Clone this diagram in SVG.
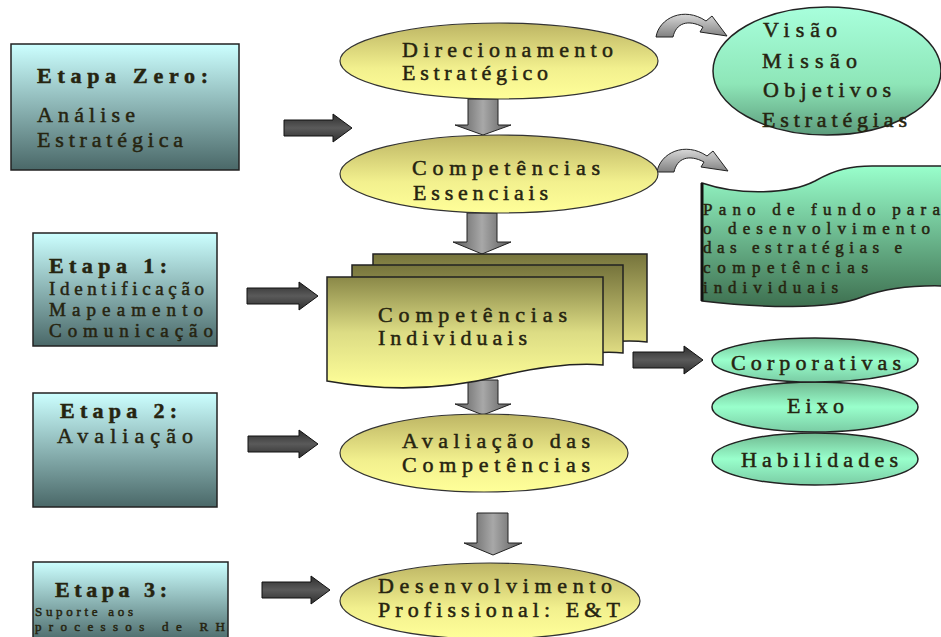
<svg xmlns="http://www.w3.org/2000/svg" width="941" height="637" viewBox="0 0 941 637">
<defs>
<linearGradient id="gBox" x1="0" y1="0" x2="0" y2="1">
<stop offset="0" stop-color="#ccffff"/><stop offset="1" stop-color="#4a6868"/>
</linearGradient>
<linearGradient id="gYel" x1="0" y1="0" x2="0" y2="1">
<stop offset="0" stop-color="#bdb564"/><stop offset="0.6" stop-color="#f2f08e"/><stop offset="1" stop-color="#ffff99"/>
</linearGradient>
<linearGradient id="gDoc" x1="0" y1="0" x2="0" y2="1">
<stop offset="0" stop-color="#8a8848"/><stop offset="0.5" stop-color="#dcdc84"/><stop offset="1" stop-color="#ffff99"/>
</linearGradient>
<linearGradient id="gDocB" x1="0" y1="0" x2="0" y2="1">
<stop offset="0" stop-color="#76743c"/><stop offset="1" stop-color="#f4f090"/>
</linearGradient>
<linearGradient id="gMint" x1="0" y1="0" x2="0" y2="1">
<stop offset="0" stop-color="#a8ffdc"/><stop offset="0.6" stop-color="#8ee6b8"/><stop offset="1" stop-color="#5c9c7c"/>
</linearGradient>
<linearGradient id="gMint2" x1="0" y1="0" x2="0" y2="1">
<stop offset="0" stop-color="#70b890"/><stop offset="0.5" stop-color="#99ffcc"/><stop offset="1" stop-color="#7acca4"/>
</linearGradient>
<linearGradient id="gPano" x1="0" y1="0" x2="0" y2="1">
<stop offset="0" stop-color="#99ffcc"/><stop offset="1" stop-color="#3e7050"/>
</linearGradient>
<linearGradient id="gArR" x1="0" y1="0" x2="0" y2="1">
<stop offset="0" stop-color="#2e2e2e"/><stop offset="0.5" stop-color="#5a5a5a"/><stop offset="1" stop-color="#2e2e2e"/>
</linearGradient>
<linearGradient id="gArD" x1="0" y1="0" x2="1" y2="0">
<stop offset="0" stop-color="#5a5a5a"/><stop offset="0.5" stop-color="#a8a8a8"/><stop offset="1" stop-color="#5a5a5a"/>
</linearGradient>
<linearGradient id="gCurve" x1="0" y1="0" x2="0" y2="1">
<stop offset="0" stop-color="#d8d8d8"/><stop offset="1" stop-color="#808080"/>
</linearGradient>
<path id="curveArrow" d="M656,37 C659,18 684,6 706,21 L712,16 L727,36 L700,32 L703,27 C688,19 676,23 673,37 Z"/>
</defs>
<style>
.box{fill:url(#gBox);stroke:#222;stroke-width:1.5}
.yel{fill:url(#gYel);stroke:#333;stroke-width:1.2}
.mint{fill:url(#gMint);stroke:#222;stroke-width:1.5}
.mint2{fill:url(#gMint2);stroke:#222;stroke-width:1.5}
.ar{fill:url(#gArR);stroke:#111;stroke-width:1}
.ad{fill:url(#gArD);stroke:#222;stroke-width:1}
.cv{fill:url(#gCurve);stroke:#222;stroke-width:1}
text{font-family:"Liberation Serif","Times New Roman",serif;fill:#262410;stroke:#262410;stroke-width:0.5}
.b{font-weight:bold}
.t19{font-size:22px}
.t17{font-size:19px}
.tp{font-size:17px}
.t14{font-size:13px}
</style>

<g id="connectors">
<path class="ar" d="M284,120 L333,120 L333,114 L352,128 L333,142 L333,136 L284,136 Z"/>
<path class="ar" d="M247,288 L299,288 L299,282 L318,296 L299,310 L299,304 L247,304 Z"/>
<path class="ar" d="M248,436 L299,436 L299,430 L318,444 L299,458 L299,452 L248,452 Z"/>
<path class="ar" d="M262,582 L311,582 L311,576 L330,590 L311,604 L311,598 L262,598 Z"/>
<path class="ar" d="M633,352 L684,352 L684,346 L703,360 L684,374 L684,368 L633,368 Z"/>
<path class="ad" d="M468,99 L498,99 L498,125 L511,125 L483,135 L455,125 L468,125 Z"/>
<path class="ad" d="M467,213 L497,213 L497,242 L511,242 L482,254 L453,242 L467,242 Z"/>
<path class="ad" d="M468,380 L498,380 L498,404 L511,404 L483,415 L455,404 L468,404 Z"/>
<path class="ad" d="M477,513 L508,513 L508,543 L522,543 L493,555 L464,543 L477,543 Z"/>
<use href="#curveArrow" class="cv"/>
<use href="#curveArrow" class="cv" transform="translate(1,135)"/>
</g>

<g id="etapa0">
<rect class="box" x="11" y="44" width="228" height="126"/>
<text class="b t19" x="37" y="83" textLength="171" lengthAdjust="spacing">Etapa Zero:</text>
<text class="t19" x="37" y="122" textLength="98" lengthAdjust="spacing">Análise</text>
<text class="t19" x="37" y="147" textLength="146" lengthAdjust="spacing">Estratégica</text>
</g>

<g id="etapa1">
<rect class="box" x="33" y="233" width="184" height="113"/>
<text class="b t19" x="49" y="273" textLength="118" lengthAdjust="spacing">Etapa 1:</text>
<text class="t17" x="49" y="295" textLength="155" lengthAdjust="spacing">Identificação</text>
<text class="t17" x="49" y="316" textLength="154" lengthAdjust="spacing">Mapeamento</text>
<text class="t17" x="49" y="337" textLength="164" lengthAdjust="spacing">Comunicação</text>
</g>

<g id="etapa2">
<rect class="box" x="33" y="393" width="184" height="114"/>
<text class="b t19" x="60" y="418" textLength="117" lengthAdjust="spacing">Etapa 2:</text>
<text class="t19" x="57" y="443" textLength="136" lengthAdjust="spacing">Avaliação</text>
</g>

<g id="etapa3">
<rect class="box" x="33" y="562" width="195" height="80"/>
<text class="b t19" x="55" y="597" textLength="112" lengthAdjust="spacing">Etapa 3:</text>
<text class="t14" x="35" y="616" textLength="98" lengthAdjust="spacing">Suporte aos</text>
<text class="t14" x="35" y="631" textLength="190" lengthAdjust="spacing">processos de RH</text>
</g>

<g id="direcionamento">
<ellipse class="yel" cx="499" cy="61" rx="159" ry="38"/>
<text class="t19" x="402" y="57" textLength="211" lengthAdjust="spacing">Direcionamento</text>
<text class="t19" x="402" y="80" textLength="146" lengthAdjust="spacing">Estratégico</text>
</g>

<g id="essenciais">
<ellipse class="yel" cx="499" cy="174" rx="159" ry="39"/>
<text class="t19" x="412" y="175" textLength="188" lengthAdjust="spacing">Competências</text>
<text class="t19" x="413" y="200" textLength="135" lengthAdjust="spacing">Essenciais</text>
</g>

<g id="visao">
<ellipse class="mint" cx="827" cy="71" rx="114" ry="64"/>
<text class="t19" x="763" y="37" textLength="74" lengthAdjust="spacing">Visão</text>
<text class="t19" x="762" y="68" textLength="95" lengthAdjust="spacing">Missão</text>
<text class="t19" x="763" y="97" textLength="128" lengthAdjust="spacing">Objetivos</text>
<text class="t19" x="762" y="127" textLength="145" lengthAdjust="spacing">Estratégias</text>
</g>

<g id="pano">
<path d="M702,183 C740,196 790,194 815,181 C836,169 852,166 872,166 L945,166 L945,286 C912,285 884,289 862,297 C830,310 762,308 702,301 Z" fill="url(#gPano)" stroke="#222" stroke-width="1.5"/>
<path d="M702,183 L702,301" stroke="#111" stroke-width="3" fill="none"/>
<text class="tp" x="703" y="215" textLength="237" lengthAdjust="spacing">Pano de fundo para</text>
<text class="tp" x="703" y="234" textLength="227" lengthAdjust="spacing">o desenvolvimento</text>
<text class="tp" x="703" y="253" textLength="199" lengthAdjust="spacing">das estratégias e</text>
<text class="tp" x="703" y="273" textLength="165" lengthAdjust="spacing">competências</text>
<text class="tp" x="703" y="293" textLength="135" lengthAdjust="spacing">individuais</text>
</g>

<g id="individuais">
<path d="M373,254 L647,254 L647,342 C610,338 560,348 520,358 L373,358 Z" fill="url(#gDocB)" stroke="#222" stroke-width="1.5"/>
<path d="M352,265 L623,265 L623,353 C590,349 540,360 500,370 L352,370 Z" fill="url(#gDocB)" stroke="#222" stroke-width="1.5"/>
<path d="M327,277 L603,277 L603,365 C570,362 535,368 500,376 C460,386 400,394 327,381 Z" fill="url(#gDoc)" stroke="#222" stroke-width="1.5"/>
<text class="t19" x="378" y="322" textLength="189" lengthAdjust="spacing">Competências</text>
<text class="t19" x="378" y="345" textLength="149" lengthAdjust="spacing">Individuais</text>
</g>

<g id="habilidades">
<ellipse class="mint2" cx="815" cy="459" rx="103" ry="26"/>
<text class="t19" x="741" y="467" textLength="157" lengthAdjust="spacing">Habilidades</text>
</g>
<g id="eixo">
<ellipse class="mint2" cx="815" cy="407" rx="103" ry="25"/>
<text class="t19" x="787" y="413" textLength="57" lengthAdjust="spacing">Eixo</text>
</g>
<g id="corporativas">
<ellipse class="mint2" cx="815" cy="360" rx="103" ry="22"/>
<text class="t19" x="731" y="370" textLength="170" lengthAdjust="spacing">Corporativas</text>
</g>

<g id="avaliacao">
<ellipse class="yel" cx="484" cy="453" rx="144" ry="39"/>
<text class="t19" x="402" y="448" textLength="188" lengthAdjust="spacing">Avaliação das</text>
<text class="t19" x="402" y="472" textLength="188" lengthAdjust="spacing">Competências</text>
</g>

<g id="desenvolvimento">
<ellipse class="yel" cx="490" cy="601" rx="150" ry="38"/>
<text class="t19" x="378" y="593" textLength="234" lengthAdjust="spacing">Desenvolvimento</text>
<text class="t19" x="378" y="617" textLength="242" lengthAdjust="spacing">Profissional: E&amp;T</text>
</g>
</svg>
